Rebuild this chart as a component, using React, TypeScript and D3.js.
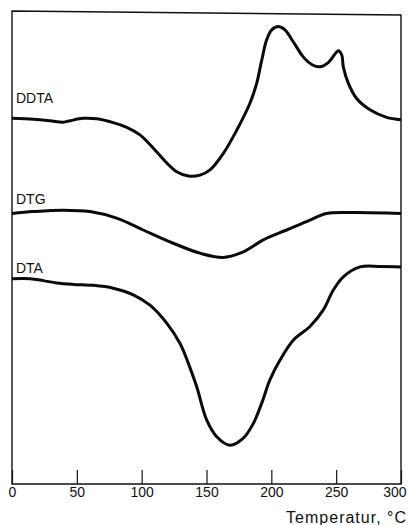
import React, { useEffect, useRef } from "react";
import * as d3 from "d3";

// temperature (°C) readings along each trace
const ddtaTemp = [0, 16.4, 29.3, 39.6, 44.7, 55, 65.3, 78.1, 88.5, 98.7, 109, 119.3, 127, 136, 145, 152.7, 163, 173.3, 183.5, 188.7, 192.6, 196.4, 200.3, 205.4, 210.5, 216.9, 224.6, 231.1, 237.5, 243.9, 249.1, 251.6, 254.3, 255.5, 259.4, 265.8, 276.1, 288.9, 300];
const ddtaValue = [77.3, 77.1, 76.8, 76.5, 76.8, 77.3, 77.2, 76.4, 75.4, 73.8, 71.0, 67.9, 66.0, 65.1, 65.3, 66.4, 69.9, 74.8, 80.5, 84.7, 89.6, 93.9, 96.0, 96.7, 96.0, 93.5, 90.3, 88.7, 88.2, 89.1, 90.9, 91.6, 90.7, 88.2, 84.7, 81.5, 79.1, 77.5, 77.0];

const dtgTemp = [0, 16.4, 39.6, 60.1, 80.7, 101.2, 124.4, 144.9, 162.9, 178.4, 193.8, 211.8, 229.8, 242.6, 263.2, 300];
const dtgValue = [57.2, 57.6, 57.9, 57.6, 56.2, 53.7, 50.9, 48.8, 47.9, 49.1, 51.6, 53.7, 55.8, 57.2, 57.4, 57.2];

const dtaTemp = [0, 13.9, 24.1, 34.5, 47.3, 62.7, 78.1, 93.5, 106.4, 119.3, 129.6, 136, 142.4, 150.2, 157.9, 168.1, 178.4, 186.1, 192.6, 198.9, 206.7, 216.9, 229.8, 240.1, 247.8, 255.5, 268.4, 283.8, 300];
const dtaValue = [43.4, 43.4, 43.0, 42.5, 42.2, 42.0, 41.4, 40.0, 37.8, 34.0, 29.7, 25.5, 20.6, 13.5, 10.0, 8.2, 9.7, 12.8, 17.1, 22.0, 26.2, 30.4, 33.3, 36.8, 41.0, 43.8, 45.9, 46.0, 45.9];

const seriesNames = ["DDTA", "DTG", "DTA"];
const labelLevels = [80.5, 59.3, 44.6]; // where each trace label sits
const xTicks = [0, 50, 100, 150, 200, 250, 300];
const xTitle = "Temperatur, °C";

export default function App() {
  const ref = useRef<SVGSVGElement>(null);

  useEffect(() => {
    const svg = d3.select(ref.current);
    svg.selectAll("*").remove();

    const x = d3.scaleLinear().domain([0, 300]).range([12, 401]);
    const y = d3.scaleLinear().domain([0, 100]).range([484, 11]);

    // frame (top edge a bit skewed like the scan)
    svg.append("path")
      .attr("d", `M${x(0)},${y(100)}L${x(300)},${y(100) + 4}L${x(300)},${y(0)}L${x(0)},${y(0)}Z`)
      .attr("fill", "none")
      .attr("stroke", "#111")
      .attr("stroke-width", 1.4);

    const axis = svg.append("g")
      .attr("transform", `translate(0,${y(0)})`)
      .call(d3.axisBottom(x).tickValues(xTicks).tickSizeInner(-14).tickSizeOuter(0).tickPadding(3));
    axis.select(".domain").remove();
    axis.selectAll("line").attr("stroke", "#111").attr("stroke-width", 1.2);
    axis.selectAll("text")
      .attr("fill", "#111")
      .style("font-family", "'Liberation Sans', Arial, sans-serif")
      .style("font-size", "14px");
    // last label pulled in so it stays on the page
    axis.selectAll<SVGTextElement, number>("text")
      .filter(d => d === 300)
      .attr("text-anchor", "end")
      .attr("x", 5);

    svg.append("text")
      .attr("x", 407)
      .attr("y", 523)
      .attr("text-anchor", "end")
      .style("font-family", "'Liberation Sans', Arial, sans-serif")
      .style("font-size", "16px")
      .style("letter-spacing", "1px")
      .attr("fill", "#111")
      .text(xTitle);

    const series = [
      { t: ddtaTemp, v: ddtaValue },
      { t: dtgTemp, v: dtgValue },
      { t: dtaTemp, v: dtaValue },
    ];

    const line = d3.line<[number, number]>()
      .x(d => x(d[0]))
      .y(d => y(d[1]))
      .curve(d3.curveCatmullRom.alpha(0.5));

    series.forEach((s, i) => {
      const pts = s.t.map((t, j) => [t, s.v[j]] as [number, number]);
      svg.append("path")
        .attr("d", line(pts))
        .attr("fill", "none")
        .attr("stroke", "#0a0a0a")
        .attr("stroke-width", 3)
        .attr("stroke-linejoin", "round");

      svg.append("text")
        .attr("x", x(0) + 4)
        .attr("y", y(labelLevels[i]))
        .style("font-family", "'Liberation Sans', Arial, sans-serif")
        .style("font-size", "14px")
        .attr("fill", "#111")
        .text(seriesNames[i]);
    });
  }, []);

  return (
    <svg ref={ref} width={409} height={525}
      style={{ position: "absolute", left: 0, top: 0, background: "#fff" }} />
  );
}
